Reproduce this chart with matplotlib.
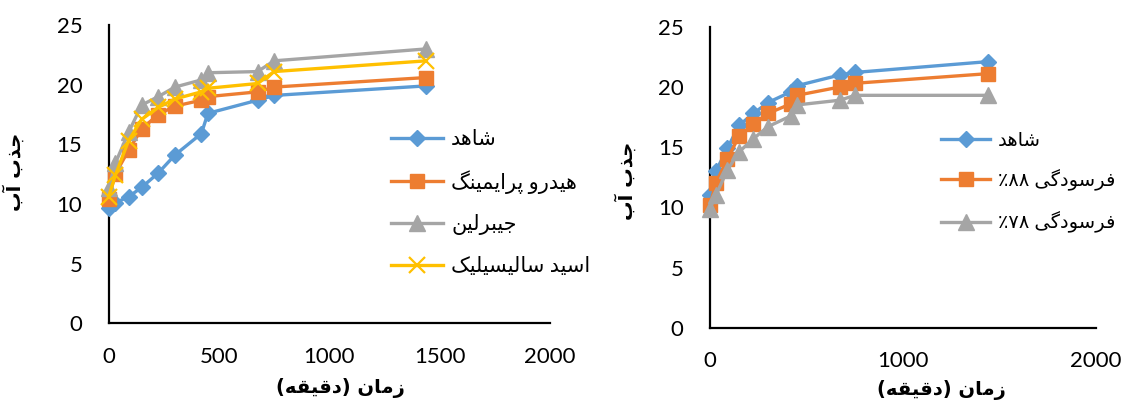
import re

import matplotlib
matplotlib.use("Agg")
import matplotlib.pyplot as plt

plt.rcParams['font.family'] = ['Lato', 'DejaVu Sans']

# sampling times (minutes)
time_min = [0, 30, 90, 150, 225, 300, 420, 450, 675, 750, 1440]

# seed priming treatments (left panel)
control_a = [9.7, 10.1, 10.6, 11.4, 12.6, 14.1, 15.9, 17.6, 18.7, 19.1, 19.9]
hydro = [10.4, 12.5, 14.5, 16.3, 17.5, 18.2, 18.7, 19.0, 19.4, 19.8, 20.6]
gibberellin = [11.3, 13.4, 16.0, 18.3, 19.0, 19.8, 20.4, 21.0, 21.1, 22.0, 23.0]
salicylic = [10.6, 12.4, 15.3, 17.1, 18.1, 18.8, 19.4, 19.7, 20.1, 21.1, 22.0]

# seed ageing (right panel)
control_b = [11.0, 13.0, 14.9, 16.8, 17.8, 18.7, 19.6, 20.1, 21.0, 21.2, 22.1]
aged_88 = [10.2, 12.0, 14.0, 15.9, 16.9, 17.8, 18.6, 19.3, 20.0, 20.3, 21.1]
aged_78 = [9.9, 11.0, 13.1, 14.6, 15.7, 16.7, 17.6, 18.5, 18.9, 19.3, 19.3]

left_labels = ['شاهد', 'هیدرو پرایمینگ', 'جیبرلین', 'اسید سالیسیلیک']
right_labels = ['شاهد', 'فرسودگی ۸۸٪', 'فرسودگی ۷۸٪']
x_title = 'زمان (دقیقه)'
y_title = 'جذب آب'

# Arabic presentation forms: isolated, final, initial, medial
FORMS = {
    'ا': ('\uFE8D', '\uFE8E', None, None),
    'آ': ('\uFE81', '\uFE82', None, None),
    'د': ('\uFEA9', '\uFEAA', None, None),
    'ذ': ('\uFEAB', '\uFEAC', None, None),
    'ر': ('\uFEAD', '\uFEAE', None, None),
    'ز': ('\uFEAF', '\uFEB0', None, None),
    'و': ('\uFEED', '\uFEEE', None, None),
    'ب': ('\uFE8F', '\uFE90', '\uFE91', '\uFE92'),
    'پ': ('\uFB56', '\uFB57', '\uFB58', '\uFB59'),
    'ج': ('\uFE9D', '\uFE9E', '\uFE9F', '\uFEA0'),
    'س': ('\uFEB1', '\uFEB2', '\uFEB3', '\uFEB4'),
    'ش': ('\uFEB5', '\uFEB6', '\uFEB7', '\uFEB8'),
    'ف': ('\uFED1', '\uFED2', '\uFED3', '\uFED4'),
    'ق': ('\uFED5', '\uFED6', '\uFED7', '\uFED8'),
    'ک': ('\uFB8E', '\uFB8F', '\uFB90', '\uFB91'),
    'گ': ('\uFB92', '\uFB93', '\uFB94', '\uFB95'),
    'ل': ('\uFEDD', '\uFEDE', '\uFEDF', '\uFEE0'),
    'م': ('\uFEE1', '\uFEE2', '\uFEE3', '\uFEE4'),
    'ن': ('\uFEE5', '\uFEE6', '\uFEE7', '\uFEE8'),
    'ه': ('\uFEE9', '\uFEEA', '\uFEEB', '\uFEEC'),
    'ی': ('\uFBFC', '\uFBFD', '\uFBFE', '\uFBFF'),
}


def rtl(text):
    """Shape Persian letters and lay them out right to left."""
    out = []
    for i, c in enumerate(text):
        f = FORMS.get(c)
        if f is None:
            out.append(c)
            continue
        prev = FORMS.get(text[i - 1]) if i > 0 else None
        nxt = FORMS.get(text[i + 1]) if i + 1 < len(text) else None
        join_prev = prev is not None and prev[2] is not None
        join_next = f[2] is not None and nxt is not None
        if join_prev and join_next:
            out.append(f[3])
        elif join_prev:
            out.append(f[1])
        elif join_next:
            out.append(f[2])
        else:
            out.append(f[0])
    s = ''.join(reversed(out)).translate(str.maketrans('()', ')('))
    return re.sub('[۰-۹0-9]+', lambda m: m.group(0)[::-1], s)


BLUE, ORANGE, GRAY, GOLD = '#5B9BD5', '#ED7D31', '#A5A5A5', '#FFC000'
STYLES = [
    dict(color=BLUE, marker='D', markersize=8.5),
    dict(color=ORANGE, marker='s', markersize=10.5),
    dict(color=GRAY, marker='^', markersize=11.5),
    dict(color=GOLD, marker='x', markersize=11, markeredgewidth=1.6),
]

fig = plt.figure(figsize=(11.26, 4.07), dpi=100)
ax1 = fig.add_axes([0.0965, 0.2056, 0.3919, 0.7329])
ax2 = fig.add_axes([0.6306, 0.1948, 0.3428, 0.7396])


def style_axes(ax, xticks):
    ax.set_xlim(0, 2000)
    ax.set_ylim(0, 25)
    ax.set_xticks(xticks)
    ax.set_yticks(range(0, 26, 5))
    ax.spines[['top', 'right']].set_visible(False)
    for side in ('left', 'bottom'):
        ax.spines[side].set_linewidth(1.6)
    ax.tick_params(axis='both', length=0, labelsize=16)
    ax.tick_params(axis='x', pad=17)
    ax.tick_params(axis='y', pad=19)


def draw(ax, series, labels, styles):
    for ys, lab, st in zip(series, labels, styles):
        ax.plot(time_min, ys, linewidth=2.4, label=rtl(lab),
                clip_on=False, zorder=3, **st)


draw(ax1, [control_a, hydro, gibberellin, salicylic], left_labels, STYLES)
draw(ax2, [control_b, aged_88, aged_78], right_labels, STYLES[:3])

style_axes(ax1, range(0, 2001, 500))
style_axes(ax2, [0, 1000, 2000])

# axis titles: (axes, x title centre, x title top, y title x, y title centre)
for ax, xc, xt, yx, yy in [(ax1, 0.525, -0.183, -0.19, 0.507),
                           (ax2, 0.6, -0.174, -0.19, 0.487)]:
    ax.set_xlabel(rtl(x_title), fontsize=14, fontweight='bold',
                  family='DejaVu Sans')
    ax.xaxis.set_label_coords(xc, xt)
    ax.set_ylabel(rtl(y_title), fontsize=14, fontweight='bold',
                  family='DejaVu Sans')
    ax.yaxis.set_label_coords(yx, yy)

leg_kw = dict(frameon=False, loc='upper left', borderpad=0, borderaxespad=0,
              fontsize=15, handlelength=2.5, handletextpad=0.4,
              labelspacing=1.0)
ax1.legend(bbox_to_anchor=(0.347, 0.683), bbox_transform=fig.transFigure,
           **leg_kw)
ax2.legend(bbox_to_anchor=(0.836, 0.676), bbox_transform=fig.transFigure,
           **dict(leg_kw, fontsize=14, labelspacing=1.05))

fig.savefig('out.png', dpi=100)
